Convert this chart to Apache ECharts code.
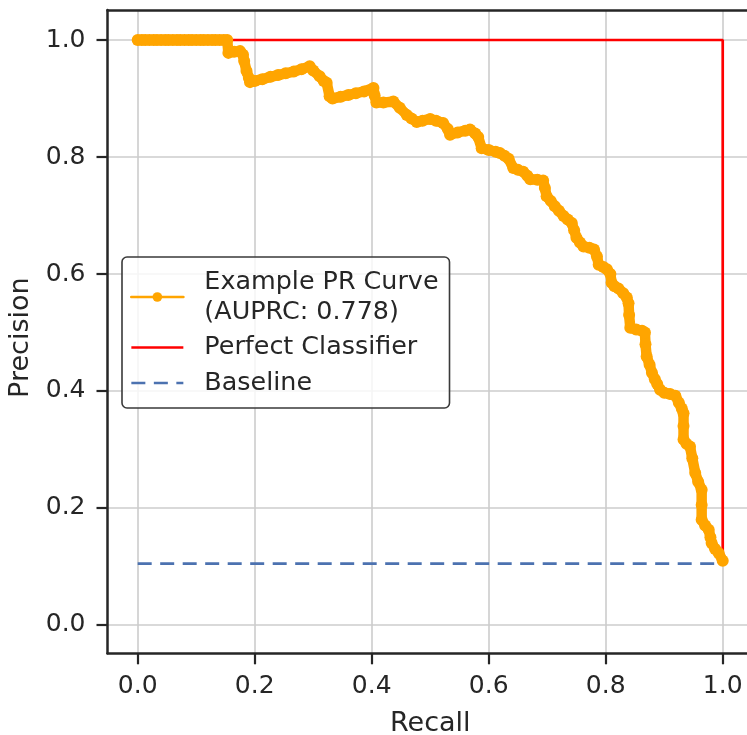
<!DOCTYPE html>
<html>
<head>
<meta charset="utf-8">
<title>Precision-Recall Curve</title>
<script src="https://cdn.jsdelivr.net/npm/echarts@6/dist/echarts.min.js"></script>
<style>
  html, body { margin: 0; padding: 0; background: #ffffff; }
  #chart { width: 747px; height: 735px; }
</style>
</head>
<body>
<div id="chart"></div>
<script>
// Precision-recall points of the example classifier
const recall = [
  0.000, 0.007, 0.013, 0.020, 0.027, 0.033, 0.040, 0.047, 0.053, 0.060,
  0.067, 0.073, 0.080, 0.087, 0.093, 0.100, 0.107, 0.113, 0.120, 0.127,
  0.133, 0.140, 0.147, 0.153, 0.155, 0.165, 0.175, 0.180, 0.182, 0.186,
  0.190, 0.192, 0.200, 0.213, 0.227, 0.240, 0.253, 0.267, 0.280, 0.294,
  0.300, 0.311, 0.318, 0.323, 0.328, 0.333, 0.347, 0.360, 0.373, 0.387,
  0.403, 0.405, 0.408, 0.420, 0.437, 0.448, 0.460, 0.468, 0.477, 0.487,
  0.500, 0.510, 0.522, 0.530, 0.534, 0.547, 0.560, 0.568, 0.577, 0.582,
  0.588, 0.600, 0.612, 0.619, 0.627, 0.634, 0.642, 0.650, 0.659, 0.666,
  0.671, 0.683, 0.693, 0.696, 0.699, 0.706, 0.713, 0.720, 0.728, 0.735,
  0.742, 0.746, 0.750, 0.756, 0.762, 0.772, 0.780, 0.785, 0.788, 0.796,
  0.802, 0.808, 0.810, 0.815, 0.822, 0.830, 0.836, 0.839, 0.840, 0.842,
  0.852, 0.862, 0.867, 0.868, 0.870, 0.875, 0.879, 0.884, 0.888, 0.893,
  0.900, 0.910, 0.919, 0.925, 0.930, 0.933, 0.933, 0.933, 0.938, 0.944,
  0.948, 0.953, 0.958, 0.964, 0.964, 0.964, 0.970, 0.976, 0.979, 0.981,
  0.987, 0.993, 1.000
];
const precision = [
  1.000, 1.000, 1.000, 1.000, 1.000, 1.000, 1.000, 1.000, 1.000, 1.000,
  1.000, 1.000, 1.000, 1.000, 1.000, 1.000, 1.000, 1.000, 1.000, 1.000,
  1.000, 1.000, 1.000, 1.000, 0.978, 0.980, 0.981, 0.975, 0.964, 0.947,
  0.935, 0.928, 0.930, 0.933, 0.937, 0.940, 0.943, 0.946, 0.950, 0.955,
  0.948, 0.938, 0.930, 0.927, 0.904, 0.900, 0.903, 0.906, 0.909, 0.912,
  0.918, 0.905, 0.893, 0.893, 0.895, 0.884, 0.872, 0.866, 0.860, 0.862,
  0.865, 0.862, 0.858, 0.848, 0.838, 0.842, 0.845, 0.847, 0.840, 0.834,
  0.815, 0.812, 0.809, 0.807, 0.802, 0.797, 0.781, 0.778, 0.775, 0.768,
  0.762, 0.761, 0.760, 0.747, 0.733, 0.725, 0.716, 0.708, 0.699, 0.693,
  0.687, 0.675, 0.662, 0.654, 0.647, 0.645, 0.642, 0.630, 0.616, 0.612,
  0.608, 0.600, 0.585, 0.579, 0.575, 0.567, 0.560, 0.550, 0.530, 0.508,
  0.505, 0.503, 0.500, 0.480, 0.459, 0.445, 0.431, 0.420, 0.412, 0.402,
  0.397, 0.395, 0.392, 0.380, 0.370, 0.362, 0.340, 0.317, 0.310, 0.305,
  0.285, 0.260, 0.245, 0.231, 0.205, 0.180, 0.170, 0.163, 0.150, 0.140,
  0.130, 0.123, 0.110
];

// Reference curves
const perfectRecall = [0.0, 1.0, 1.0];
const perfectPrecision = [1.0, 1.0, 0.105];
const baselineRecall = [0.0, 1.0];
const baselinePrecision = [0.105, 0.105];

// Axis ticks
const tickValues = [0.0, 0.2, 0.4, 0.6, 0.8, 1.0];

const curveName = 'Example PR Curve\n(AUPRC: 0.778)';
const perfectName = 'Perfect Classifier';
const baselineName = 'Baseline';

const zip = (xs, ys) => xs.map((x, i) => [x, ys[i]]);

const FONT = 'DejaVu Sans';
const INK = '#262626';

const chart = echarts.init(document.getElementById('chart'), null, { renderer: 'canvas' });

const xRange = { min: -0.0516, max: 1.0415 };
const yRange = { min: -0.0484, max: 1.0513 };

const axisCommon = {
  type: 'value',
  nameLocation: 'middle',
  axisLine: { show: true, onZero: false, lineStyle: { color: INK, width: 2.5 } },
  axisTick: {
    show: true, inside: false, length: 11, customValues: tickValues,
    lineStyle: { color: INK, width: 2.2 }
  },
  splitLine: { show: true, lineStyle: { color: '#cccccc', width: 1.6 } }
};

const labelStyle = {
  customValues: tickValues,
  fontFamily: FONT, fontSize: 25, color: INK,
  formatter: v => v.toFixed(1)
};

chart.setOption({
  animation: false,
  backgroundColor: '#ffffff',
  grid: {
    left: 107.5, right: 0, top: 10, bottom: 81.7,
    containLabel: false, outerBoundsMode: 'none'
  },
  xAxis: [
    Object.assign({}, axisCommon, xRange, {
      name: 'Recall', nameGap: 57,
      nameTextStyle: { fontFamily: FONT, fontSize: 27, color: INK, padding: [0, 0, 0, 6] },
      axisLabel: Object.assign({}, labelStyle, { margin: 21 })
    }),
    // top spine
    Object.assign({ type: 'value', position: 'top' }, xRange, {
      axisLine: { show: true, onZero: false, lineStyle: { color: INK, width: 2.5 } },
      axisTick: { show: false },
      axisLabel: { show: false },
      splitLine: { show: false }
    })
  ],
  yAxis: Object.assign({}, axisCommon, yRange, {
    name: 'Precision', nameGap: 69,
    nameTextStyle: { fontFamily: FONT, fontSize: 27, color: INK, padding: [0, 12, 0, 0] },
    axisLabel: Object.assign({}, labelStyle, { margin: 22 })
  }),
  legend: {
    orient: 'vertical',
    left: 122,
    top: 257,
    padding: [10, 11, 10, 8],
    itemGap: 5.5,
    itemWidth: 52,
    itemHeight: 12,
    backgroundColor: 'rgba(255,255,255,0.8)',
    borderColor: '#3a3a3a',
    borderWidth: 1.6,
    borderRadius: 5,
    lineStyle: { width: 2.7 },
    textStyle: {
      fontFamily: FONT, fontSize: 25.4, color: INK, lineHeight: 30,
      padding: [0, 0, 0, 16]
    },
    data: [
      { name: curveName },
      { name: perfectName, itemStyle: { opacity: 0 } },
      { name: baselineName, itemStyle: { opacity: 0 } }
    ]
  },
  series: [
    {
      name: curveName,
      type: 'line',
      data: zip(recall, precision),
      symbol: 'circle',
      symbolSize: 12,
      showAllSymbol: true,
      color: '#FFA500',
      itemStyle: { color: '#FFA500' },
      lineStyle: { color: '#FFA500', width: 10.5, join: 'round', cap: 'round' },
      emphasis: { disabled: true }
    },
    {
      name: perfectName,
      type: 'line',
      data: zip(perfectRecall, perfectPrecision),
      symbol: 'none',
      color: '#FF0000',
      lineStyle: { color: '#FF0000', width: 2.7 },
      emphasis: { disabled: true }
    },
    {
      name: baselineName,
      type: 'line',
      data: zip(baselineRecall, baselinePrecision),
      symbol: 'none',
      color: '#4C72B0',
      lineStyle: { color: '#4C72B0', width: 2.7, type: [14, 8.5] },
      emphasis: { disabled: true }
    }
  ]
});
</script>
</body>
</html>
